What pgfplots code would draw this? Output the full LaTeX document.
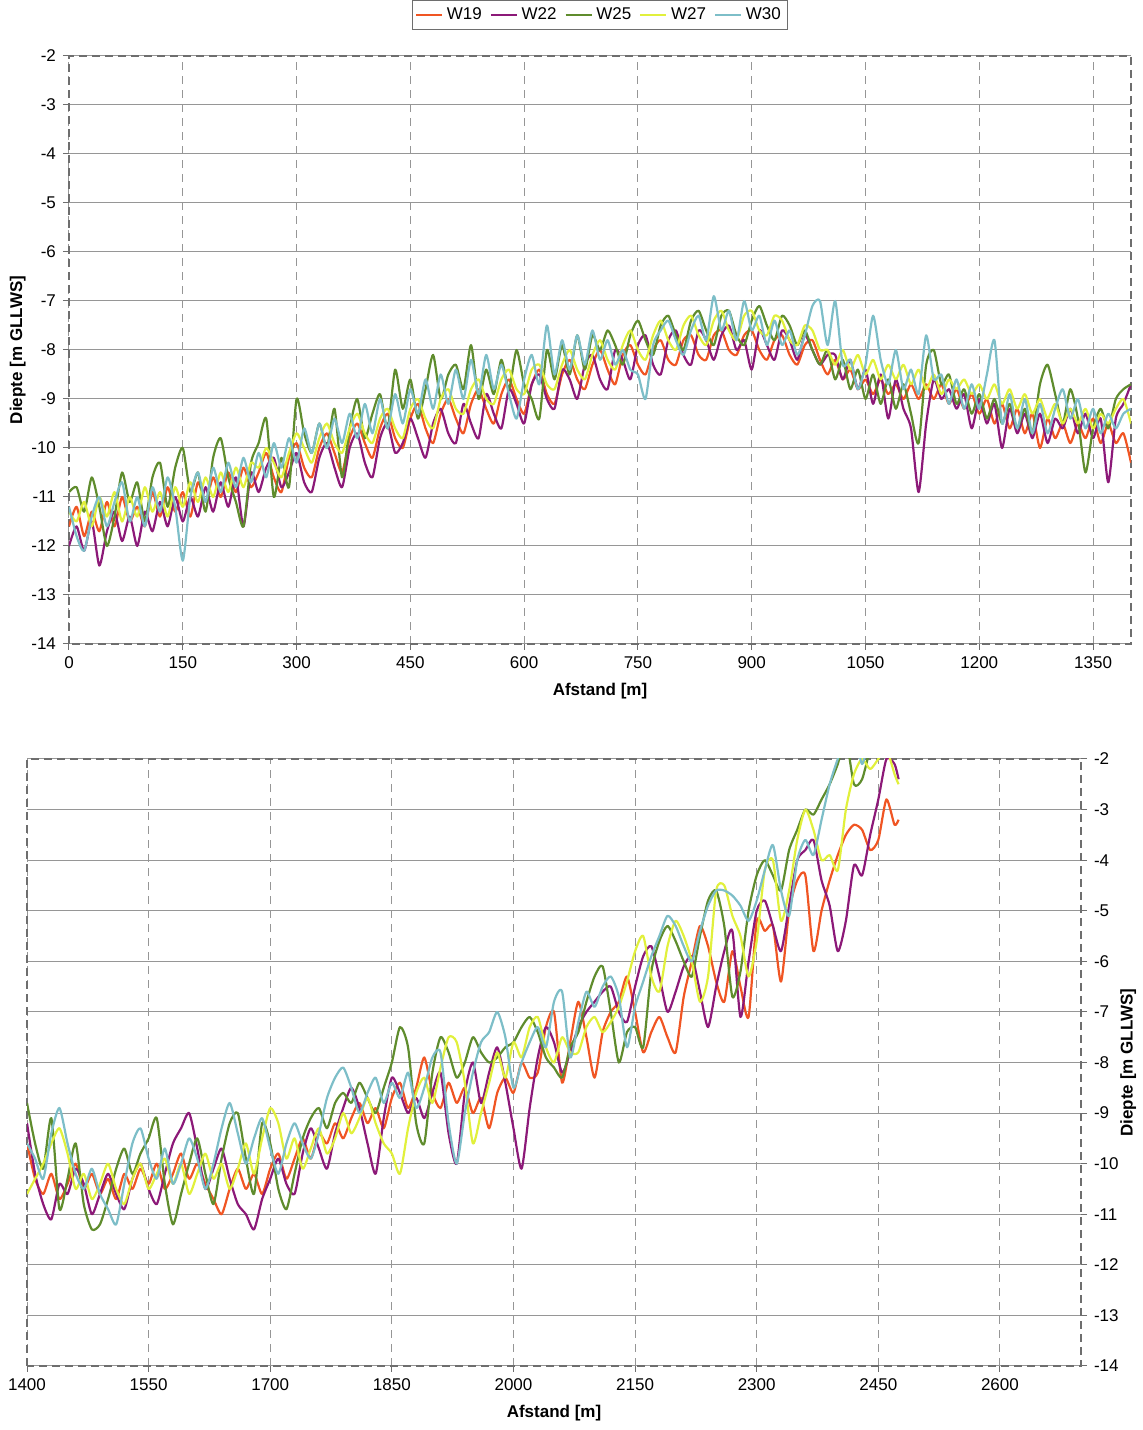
\documentclass[border=0pt]{standalone}
\usepackage{pgfplots}
\pgfplotsset{compat=1.18}
\usepackage{pgfplotstable}
\usepackage{fontspec}
\setmainfont{Liberation Sans}

\definecolor{cW19}{RGB}{240,85,35}
\definecolor{cW22}{RGB}{140,25,120}
\definecolor{cW25}{RGB}{95,140,45}
\definecolor{cW27}{RGB}{225,240,60}
\definecolor{cW30}{RGB}{125,190,200}
\definecolor{axgray}{RGB}{110,110,110}
\definecolor{gridgray}{RGB}{150,150,150}

\pgfplotstableread{
x a b c d e
0 -11.6 -12.0 -10.9 -11.3 -11.2
10 -11.2 -11.6 -10.8 -11.5 -11.8
20 -11.8 -12.1 -11.3 -11.1 -12.1
30 -11.3 -11.5 -10.6 -11.6 -11.4
40 -11.7 -12.4 -11.2 -11.0 -11.0
50 -11.1 -11.7 -12.0 -11.4 -11.6
60 -11.6 -11.3 -11.4 -10.9 -11.1
70 -11.0 -11.9 -10.5 -11.5 -10.7
80 -11.5 -11.4 -11.1 -11.0 -11.5
90 -11.2 -12.0 -10.7 -11.4 -11.0
100 -11.6 -11.3 -11.5 -10.8 -11.6
110 -10.9 -11.7 -10.6 -11.3 -10.8
120 -11.4 -11.1 -10.3 -10.9 -11.3
130 -10.8 -11.6 -11.2 -11.4 -10.6
140 -11.3 -11.0 -10.4 -10.8 -11.2
150 -10.9 -11.5 -10.0 -11.2 -12.3
160 -11.4 -11.0 -10.9 -10.7 -11.0
170 -10.7 -11.4 -10.5 -11.1 -10.5
180 -11.1 -10.8 -11.3 -10.6 -11.1
190 -10.6 -11.3 -10.2 -11.0 -10.4
200 -11.0 -10.7 -9.8 -10.5 -10.9
210 -10.5 -11.2 -10.6 -10.9 -10.3
220 -10.9 -10.6 -11.1 -10.4 -10.8
230 -10.4 -11.6 -11.6 -10.8 -10.2
240 -10.8 -10.5 -10.3 -10.3 -10.7
250 -10.5 -10.9 -9.9 -10.4 -10.1
260 -10.1 -10.4 -9.4 -10.0 -10.6
270 -10.6 -10.2 -11.0 -10.3 -9.9
280 -10.9 -10.8 -10.2 -10.6 -10.4
290 -10.2 -10.5 -10.8 -10.1 -9.8
300 -9.9 -10.1 -9.0 -9.7 -10.3
310 -10.4 -10.7 -9.7 -10.0 -9.6
320 -10.6 -10.9 -10.1 -10.3 -10.1
330 -10.0 -10.2 -9.5 -9.8 -9.5
340 -9.7 -9.9 -10.0 -9.5 -10.0
350 -10.1 -10.4 -9.2 -9.9 -9.4
360 -10.5 -10.8 -10.6 -10.1 -9.9
370 -9.8 -10.0 -9.6 -9.6 -9.3
380 -9.5 -9.7 -9.0 -9.3 -9.8
390 -9.9 -10.3 -9.8 -9.7 -9.1
400 -10.2 -10.6 -9.3 -9.9 -9.7
410 -9.6 -9.8 -8.9 -9.4 -9.0
420 -9.3 -9.5 -9.6 -9.2 -9.6
430 -9.8 -10.1 -8.4 -9.6 -8.9
440 -10.0 -9.9 -9.2 -9.8 -9.5
450 -9.4 -9.4 -8.6 -9.2 -8.8
460 -9.1 -9.8 -9.4 -9.0 -9.3
470 -9.6 -10.2 -8.8 -9.4 -8.6
480 -9.9 -9.5 -8.1 -9.6 -9.2
490 -9.3 -9.2 -9.0 -9.0 -8.5
500 -9.0 -9.7 -8.5 -8.8 -9.1
510 -9.4 -9.9 -8.3 -9.2 -8.4
520 -9.7 -9.1 -8.8 -9.3 -9.0
530 -9.1 -9.5 -7.9 -8.8 -8.2
540 -8.8 -9.8 -9.0 -8.6 -8.9
550 -9.2 -8.9 -8.4 -9.0 -8.1
560 -9.5 -9.3 -8.9 -9.1 -8.8
570 -8.9 -9.6 -8.2 -8.6 -8.3
580 -8.6 -8.8 -8.8 -8.4 -8.9
590 -9.0 -9.1 -8.0 -8.8 -9.4
600 -9.3 -9.5 -8.7 -8.9 -8.6
610 -8.7 -8.7 -9.0 -8.4 -8.1
620 -8.4 -8.5 -9.4 -8.3 -8.7
630 -8.9 -9.0 -8.0 -8.7 -7.5
640 -9.1 -9.2 -8.6 -8.8 -8.5
650 -8.5 -8.4 -7.9 -8.3 -7.8
660 -8.2 -8.6 -8.5 -8.0 -8.4
670 -8.6 -9.0 -7.7 -8.4 -7.7
680 -8.8 -8.3 -8.4 -8.6 -8.3
690 -8.3 -8.1 -7.7 -8.1 -7.6
700 -8.0 -8.6 -8.0 -7.8 -8.2
710 -8.4 -8.8 -7.6 -8.2 -7.8
720 -8.7 -8.0 -7.9 -8.4 -8.3
730 -8.1 -8.2 -8.3 -7.9 -8.0
740 -7.9 -8.6 -7.7 -7.6 -8.4
750 -8.3 -7.9 -7.4 -8.0 -8.5
760 -8.5 -7.7 -7.8 -8.2 -9.0
770 -8.0 -8.3 -8.1 -7.7 -7.9
780 -7.8 -8.5 -7.5 -7.4 -7.6
790 -8.2 -7.8 -7.3 -7.8 -7.4
800 -8.3 -7.6 -7.7 -8.0 -7.8
810 -7.8 -8.1 -8.0 -7.5 -8.1
820 -7.7 -8.3 -7.4 -7.3 -7.6
830 -8.1 -7.6 -7.2 -7.7 -7.3
840 -8.2 -7.8 -7.6 -7.9 -7.8
850 -7.7 -8.2 -7.9 -7.4 -6.9
860 -7.6 -7.7 -7.3 -7.2 -7.6
870 -8.0 -7.5 -7.2 -7.6 -7.2
880 -8.1 -8.0 -7.7 -7.8 -7.8
890 -7.7 -7.8 -7.9 -7.3 -7.0
900 -7.6 -8.4 -7.4 -7.2 -7.6
910 -8.0 -7.6 -7.1 -7.6 -7.3
920 -8.2 -7.9 -7.5 -7.7 -7.9
930 -7.8 -8.2 -7.8 -7.3 -7.4
940 -7.7 -7.6 -7.3 -7.4 -7.9
950 -8.1 -7.8 -7.5 -7.8 -7.6
960 -8.3 -8.2 -7.9 -7.9 -8.1
970 -7.9 -7.7 -7.6 -7.5 -7.7
980 -7.8 -8.0 -8.0 -7.6 -7.1
990 -8.2 -8.3 -8.3 -8.0 -7.0
1000 -8.5 -8.1 -8.0 -8.0 -7.9
1010 -8.2 -8.1 -8.6 -8.3 -7.0
1020 -8.6 -8.6 -8.2 -8.0 -8.3
1030 -8.4 -8.2 -8.8 -8.4 -8.2
1040 -8.8 -8.8 -8.4 -8.1 -8.8
1050 -8.6 -8.4 -9.0 -8.5 -8.3
1060 -8.9 -9.1 -8.5 -8.2 -7.3
1070 -8.6 -8.5 -9.1 -8.6 -8.2
1080 -8.9 -9.4 -8.6 -8.3 -8.7
1090 -8.7 -8.6 -9.2 -8.6 -8.0
1100 -9.0 -9.2 -8.7 -8.3 -8.8
1110 -8.7 -9.6 -9.3 -8.7 -8.4
1120 -9.0 -10.9 -9.9 -8.4 -8.9
1130 -8.7 -9.5 -8.3 -8.8 -7.7
1140 -9.0 -8.6 -8.0 -8.5 -8.6
1150 -8.7 -9.0 -8.7 -8.9 -8.5
1160 -9.1 -8.8 -8.5 -8.6 -9.1
1170 -8.8 -9.2 -9.1 -8.8 -8.6
1180 -9.2 -8.9 -8.8 -8.6 -9.2
1190 -8.9 -9.6 -9.3 -8.9 -8.7
1200 -9.3 -9.0 -8.9 -8.7 -9.2
1210 -9.0 -9.5 -9.4 -9.0 -8.5
1220 -9.5 -9.1 -9.0 -8.7 -7.8
1230 -9.1 -10.0 -9.5 -9.1 -9.5
1240 -9.6 -9.2 -9.1 -8.8 -8.9
1250 -9.2 -9.7 -9.6 -9.2 -9.6
1260 -9.7 -9.3 -9.2 -8.9 -9.0
1270 -9.3 -9.8 -9.7 -9.3 -9.7
1280 -10.0 -9.3 -8.7 -9.0 -9.1
1290 -9.4 -9.9 -8.3 -9.4 -9.7
1300 -9.8 -9.4 -8.9 -9.1 -9.2
1310 -9.5 -9.6 -9.5 -9.5 -8.8
1320 -9.9 -9.2 -8.8 -9.2 -9.4
1330 -9.5 -9.7 -9.4 -9.5 -9.0
1340 -9.8 -9.3 -10.5 -9.2 -9.6
1350 -9.4 -9.8 -9.6 -9.6 -9.2
1360 -9.9 -9.4 -9.2 -9.3 -9.7
1370 -9.5 -10.7 -9.6 -9.5 -9.3
1380 -9.9 -9.4 -9.0 -9.2 -9.6
1390 -9.7 -9.1 -8.8 -9.0 -9.3
1400 -10.3 -8.7 -8.7 -9.5 -9.2
}\topdata

\pgfplotstableread{
x a b c d e
1400 -9.6 -9.2 -8.8 -10.6 -9.6
1410 -10.3 -10.2 -9.6 -10.3 -9.9
1420 -10.6 -10.8 -10.1 -10.0 -10.3
1430 -10.2 -11.1 -9.1 -9.6 -9.4
1440 -10.7 -10.4 -10.9 -9.3 -8.9
1450 -10.4 -10.6 -10.3 -9.8 -9.6
1460 -10.0 -10.1 -9.6 -10.5 -10.2
1470 -10.5 -10.4 -10.8 -10.2 -10.5
1480 -10.2 -11.0 -11.3 -10.7 -10.1
1490 -10.6 -10.6 -11.2 -10.4 -10.6
1500 -10.3 -10.2 -10.7 -10.0 -10.9
1510 -10.7 -10.6 -10.1 -10.5 -11.2
1520 -10.2 -10.9 -9.7 -10.8 -10.4
1530 -10.5 -10.3 -10.2 -10.3 -9.6
1540 -10.1 -10.0 -9.8 -10.0 -9.3
1550 -10.4 -10.5 -9.5 -10.5 -9.9
1560 -10.0 -10.8 -9.1 -10.2 -10.3
1570 -10.5 -10.2 -10.4 -9.9 -9.7
1580 -10.2 -9.6 -11.2 -10.4 -10.4
1590 -9.8 -9.3 -10.6 -10.0 -10.0
1600 -10.3 -9.0 -10.0 -10.6 -9.5
1610 -10.0 -9.7 -9.5 -10.2 -9.9
1620 -10.4 -10.5 -10.2 -9.8 -10.5
1630 -10.7 -10.1 -10.8 -10.3 -10.0
1640 -11.0 -9.7 -9.9 -10.0 -9.3
1650 -10.5 -10.3 -9.2 -10.5 -8.8
1660 -10.1 -10.8 -9.0 -10.1 -9.4
1670 -10.5 -11.0 -9.9 -9.6 -10.0
1680 -10.2 -11.3 -10.6 -10.2 -9.5
1690 -10.6 -10.7 -9.2 -9.5 -9.1
1700 -10.1 -10.3 -9.6 -8.9 -9.7
1710 -9.8 -9.9 -10.5 -9.2 -10.2
1720 -10.3 -10.4 -10.9 -9.9 -9.6
1730 -9.9 -10.6 -10.2 -9.5 -9.2
1740 -9.5 -9.8 -9.5 -10.1 -9.6
1750 -9.9 -9.3 -9.1 -9.7 -9.9
1760 -9.4 -9.7 -8.9 -9.3 -9.4
1770 -9.6 -10.1 -9.3 -9.8 -8.7
1780 -9.2 -9.4 -8.8 -9.5 -8.3
1790 -9.5 -8.9 -8.6 -9.0 -8.1
1800 -9.1 -8.5 -8.8 -9.4 -8.5
1810 -8.8 -8.9 -8.4 -9.1 -9.0
1820 -9.2 -9.6 -8.7 -8.7 -8.6
1830 -8.9 -10.2 -9.0 -9.2 -8.3
1840 -9.3 -9.1 -8.5 -9.6 -8.8
1850 -8.7 -8.3 -8.0 -9.8 -8.4
1860 -8.4 -8.6 -7.3 -10.2 -8.7
1870 -8.9 -9.0 -7.7 -9.3 -8.2
1880 -8.5 -8.7 -9.2 -8.6 -8.9
1890 -7.9 -9.1 -9.6 -8.3 -8.5
1900 -8.6 -8.6 -8.2 -8.8 -7.9
1910 -8.9 -8.2 -7.5 -8.1 -7.8
1920 -8.4 -9.4 -7.8 -7.5 -9.2
1930 -8.8 -10.0 -8.3 -7.6 -10.0
1940 -8.5 -8.6 -8.0 -8.4 -9.0
1950 -9.0 -8.0 -7.5 -9.6 -8.2
1960 -8.7 -8.8 -7.8 -9.0 -7.6
1970 -9.3 -8.2 -8.0 -8.4 -7.4
1980 -8.6 -7.7 -7.9 -7.8 -7.0
1990 -8.3 -8.4 -7.7 -8.3 -7.5
2000 -8.6 -9.3 -7.6 -7.6 -8.5
2010 -8.0 -10.1 -7.3 -7.9 -8.0
2020 -8.3 -8.9 -7.1 -7.3 -7.6
2030 -8.2 -7.9 -7.4 -7.1 -7.3
2040 -7.3 -7.3 -7.9 -7.7 -7.7
2050 -7.0 -7.6 -8.1 -8.0 -6.8
2060 -8.4 -8.2 -8.3 -7.5 -6.6
2070 -7.6 -7.8 -7.7 -7.8 -7.9
2080 -6.8 -7.3 -7.4 -7.8 -7.2
2090 -7.5 -7.0 -6.8 -7.3 -6.6
2100 -8.3 -6.8 -6.3 -7.1 -6.9
2110 -7.4 -6.6 -6.1 -7.4 -6.5
2120 -7.0 -6.5 -7.0 -7.2 -6.3
2130 -6.8 -7.0 -8.0 -6.9 -6.7
2140 -6.3 -7.2 -7.4 -6.4 -7.7
2150 -7.0 -6.5 -7.3 -5.8 -6.9
2160 -7.8 -5.9 -7.7 -5.5 -6.4
2170 -7.4 -5.7 -6.2 -6.3 -5.9
2180 -7.1 -6.3 -5.6 -6.6 -5.5
2190 -7.5 -7.0 -5.3 -5.7 -5.1
2200 -7.8 -6.6 -5.6 -5.2 -5.3
2210 -6.7 -6.1 -6.0 -5.5 -5.7
2220 -6.0 -5.9 -6.3 -6.0 -6.0
2230 -5.3 -6.6 -5.5 -6.8 -5.4
2240 -5.7 -7.3 -4.8 -6.3 -4.9
2250 -6.4 -6.5 -4.6 -4.6 -4.6
2260 -6.8 -5.8 -5.3 -4.5 -4.6
2270 -5.8 -5.4 -6.7 -5.1 -4.7
2280 -6.5 -7.1 -6.2 -5.5 -4.9
2290 -7.1 -6.0 -5.0 -6.3 -5.2
2300 -5.2 -5.0 -4.3 -5.6 -4.8
2310 -5.4 -4.8 -4.0 -4.2 -4.2
2320 -5.3 -5.3 -4.3 -4.0 -3.7
2330 -6.4 -5.8 -4.6 -5.2 -4.6
2340 -5.0 -4.9 -3.8 -4.6 -5.1
2350 -4.4 -4.0 -3.4 -3.6 -4.0
2360 -4.3 -3.8 -3.0 -3.0 -3.6
2370 -5.8 -3.6 -3.1 -3.4 -3.9
2380 -5.0 -4.4 -2.8 -4.0 -3.2
2390 -4.4 -4.9 -2.5 -3.9 -2.5
2400 -3.9 -5.8 -2.1 -4.2 -2.0
2410 -3.5 -5.2 -1.6 -3.0 -1.6
2420 -3.3 -4.1 -2.5 -2.3 -1.4
2430 -3.4 -4.3 -2.4 -2.0 -2.1
2440 -3.8 -3.5 -1.8 -2.2 -1.5
2450 -3.6 -2.8 -1.4 -2.0 -1.3
2460 -2.8 -2.0 -1.5 -1.8 -1.5
2470 -3.3 -2.1 -1.6 -2.3 -1.6
2475 -3.2 -2.4 -1.8 -2.5 -1.7
}\botdata

\pgfplotsset{
  chartbase/.style={
    scale only axis,
    font=\fontsize{8.5}{10}\selectfont,
    ymin=-14, ymax=-2,
    ytick={-14,-13,...,-2},
    /pgf/number format/assume math mode=true,
    /pgf/number format/1000 sep={},
    axis line style={axgray, dash pattern=on 4pt off 2.5pt, line width=0.6pt},
    xmajorgrids, ymajorgrids,
    x grid style={gridgray, dash pattern=on 4pt off 3pt, line width=0.5pt},
    y grid style={gridgray, solid, line width=0.5pt},
    tick align=outside, major tick length=3pt,
    tick style={axgray, solid, line width=0.5pt},
    every axis plot/.append style={line width=1.1pt, line join=round, smooth, tension=0.4},
    clip=true,
  }
}

\begin{document}
\begin{tikzpicture}
\path[use as bounding box] (0,0) rectangle (571.5pt,715pt);

\begin{axis}[chartbase,
  at={(34.5pt,393pt)}, anchor=south west,
  width=531pt, height=294pt,
  xmin=0, xmax=1400,
  xtick={0,150,...,1350},
  xtick pos=bottom, ytick pos=left,
  xlabel={\textbf{Afstand [m]}},
  ylabel={\textbf{Diepte [m GLLWS]}},
  ylabel shift=-4pt,
  legend columns=5,
  legend style={at={(0.5,1)}, anchor=south, yshift=13pt,
    draw=axgray, line width=0.5pt, font=\fontsize{8.5}{10}\selectfont,
    inner sep=1.5pt,
    /tikz/every even column/.append style={column sep=2pt}},
  legend image code/.code={\draw[#1, line width=0.9pt, sharp plot] (0pt,0pt) -- (13pt,0pt);},
]
\addplot[cW19] table[x=x,y=a]{\topdata};
\addlegendentry{W19}
\addplot[cW22] table[x=x,y=b]{\topdata};
\addlegendentry{W22}
\addplot[cW25] table[x=x,y=c]{\topdata};
\addlegendentry{W25}
\addplot[cW27] table[x=x,y=d]{\topdata};
\addlegendentry{W27}
\addplot[cW30] table[x=x,y=e]{\topdata};
\addlegendentry{W30}
\end{axis}

\begin{axis}[chartbase,
  at={(13.5pt,32pt)}, anchor=south west,
  width=527pt, height=303.5pt,
  xmin=1400, xmax=2700,
  xtick={1400,1550,...,2600},
  xtick pos=bottom, ytick pos=right,
  yticklabel pos=right,
  xlabel={\textbf{Afstand [m]}},
  ylabel={\textbf{Diepte [m GLLWS]}},
  ylabel shift=-6pt,
]
\addplot[cW19] table[x=x,y=a]{\botdata};
\addplot[cW22] table[x=x,y=b]{\botdata};
\addplot[cW25] table[x=x,y=c]{\botdata};
\addplot[cW27] table[x=x,y=d]{\botdata};
\addplot[cW30] table[x=x,y=e]{\botdata};
\end{axis}
\end{tikzpicture}
\end{document}
